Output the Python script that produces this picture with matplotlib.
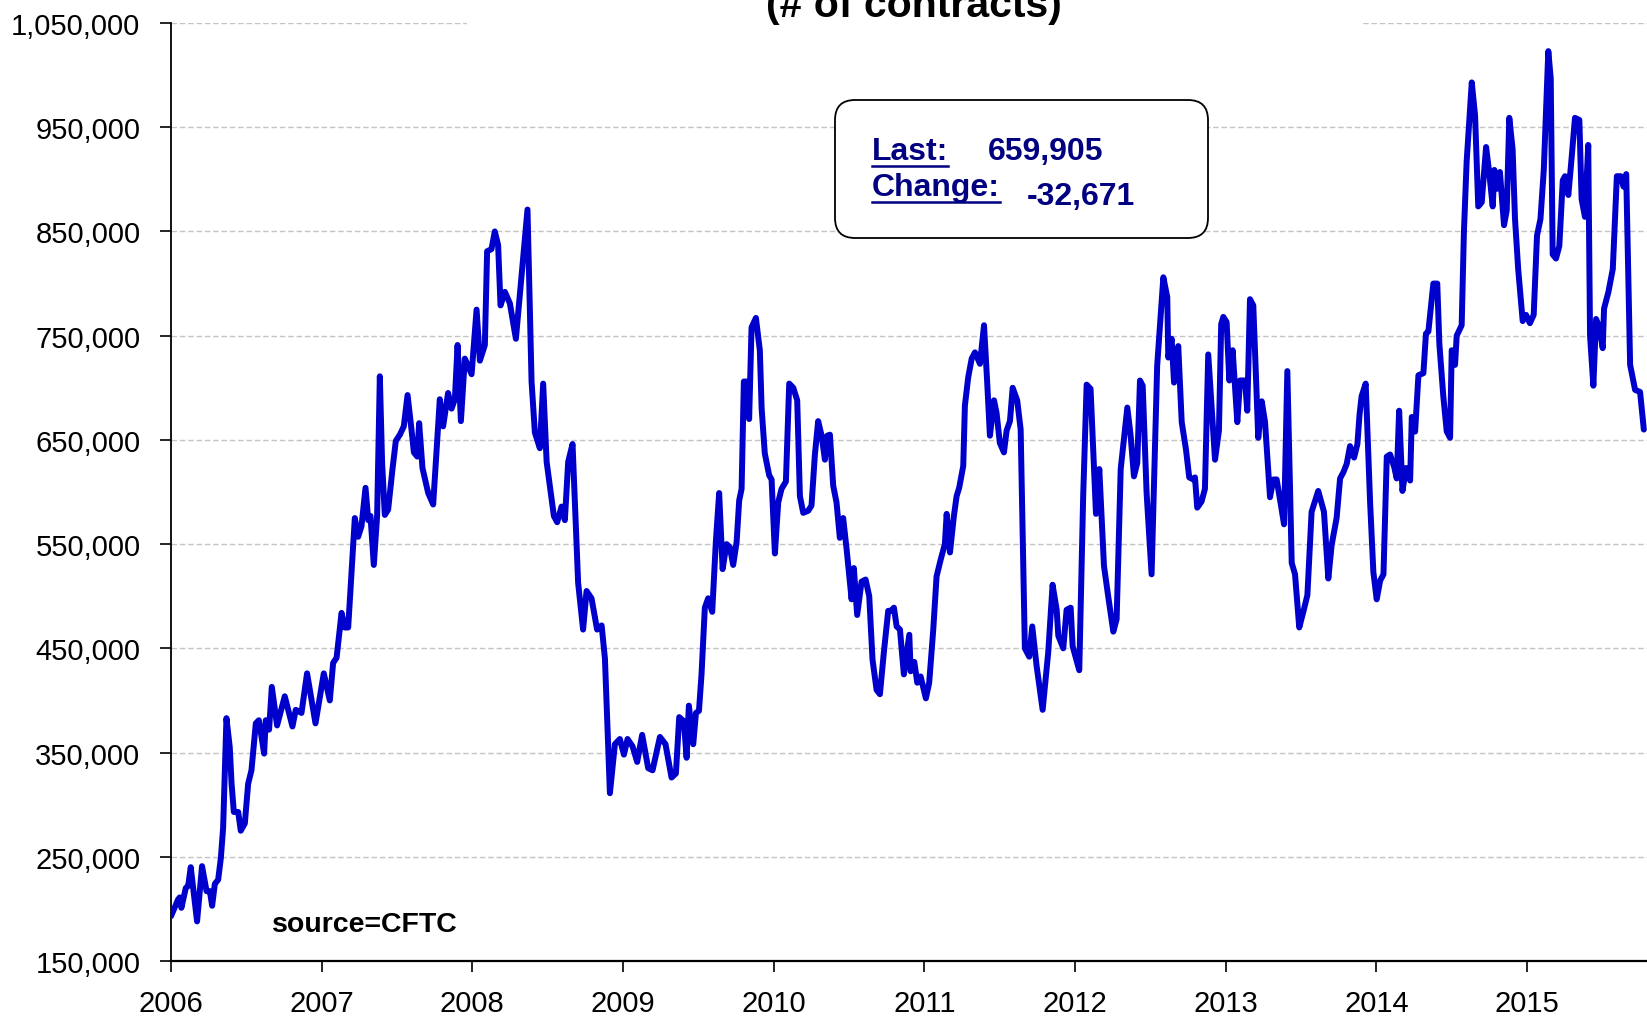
import numpy as np
import matplotlib
matplotlib.use("Agg")
import matplotlib.pyplot as plt
from matplotlib.patches import FancyBboxPatch, Rectangle
from matplotlib.lines import Line2D

# weekly open interest (decimal year, thousands of contracts)
t = [2006.000, 2006.047, 2006.058, 2006.069, 2006.098, 2006.114, 2006.131, 2006.173, 2006.206, 2006.236,
     2006.258, 2006.273, 2006.291, 2006.313, 2006.331, 2006.346, 2006.368, 2006.390, 2006.402, 2006.417,
     2006.446, 2006.463, 2006.490, 2006.512, 2006.534, 2006.563, 2006.583, 2006.601, 2006.618, 2006.629,
     2006.651, 2006.669, 2006.704, 2006.755, 2006.806, 2006.828, 2006.866, 2006.903, 2006.959,
     2007.014, 2007.054, 2007.076, 2007.099, 2007.132, 2007.153, 2007.176, 2007.220, 2007.242, 2007.264,
     2007.291, 2007.309, 2007.324, 2007.346, 2007.368, 2007.386, 2007.401, 2007.419, 2007.441, 2007.470,
     2007.492, 2007.519, 2007.545, 2007.570, 2007.596, 2007.612, 2007.634, 2007.647, 2007.669, 2007.707,
     2007.740, 2007.784, 2007.806, 2007.839, 2007.862, 2007.884, 2007.902, 2007.924, 2007.950, 2007.995,
     2008.028, 2008.050, 2008.083, 2008.098, 2008.127, 2008.149, 2008.171, 2008.187, 2008.216, 2008.249,
     2008.289, 2008.366, 2008.393, 2008.415, 2008.448, 2008.470, 2008.493, 2008.541, 2008.563, 2008.592,
     2008.614, 2008.636, 2008.665, 2008.702, 2008.735, 2008.758, 2008.791, 2008.828, 2008.858, 2008.880,
     2008.913, 2008.946, 2008.979,
     2009.006, 2009.030, 2009.063, 2009.094, 2009.127, 2009.167, 2009.196, 2009.245, 2009.282, 2009.322,
     2009.351, 2009.373, 2009.404, 2009.422, 2009.437, 2009.466, 2009.484, 2009.504, 2009.521, 2009.543,
     2009.565, 2009.592, 2009.616, 2009.638, 2009.661, 2009.687, 2009.709, 2009.731, 2009.754, 2009.771,
     2009.787, 2009.802, 2009.820, 2009.837, 2009.853, 2009.882, 2009.908, 2009.920, 2009.941, 2009.970,
     2009.986,
     2010.008, 2010.030, 2010.052, 2010.081, 2010.103, 2010.130, 2010.156, 2010.174, 2010.196, 2010.229,
     2010.251, 2010.273, 2010.295, 2010.318, 2010.340, 2010.355, 2010.373, 2010.395, 2010.417, 2010.439,
     2010.461, 2010.484, 2010.517, 2010.532, 2010.554, 2010.583, 2010.610, 2010.634, 2010.656, 2010.683,
     2010.705, 2010.731, 2010.760, 2010.780, 2010.798, 2010.816, 2010.838, 2010.864, 2010.900, 2010.909,
     2010.933, 2010.953, 2010.975,
     2011.010, 2011.032, 2011.059, 2011.081, 2011.108, 2011.136, 2011.148, 2011.170, 2011.196, 2011.214,
     2011.231, 2011.258, 2011.269, 2011.291, 2011.314, 2011.336, 2011.369, 2011.396, 2011.417, 2011.435,
     2011.462, 2011.479, 2011.501, 2011.528, 2011.546, 2011.568, 2011.586, 2011.616, 2011.639, 2011.667,
     2011.696, 2011.716, 2011.745, 2011.785, 2011.822, 2011.851, 2011.878, 2011.889, 2011.922, 2011.944,
     2011.971, 2011.984,
     2012.028, 2012.054, 2012.077, 2012.103, 2012.139, 2012.161, 2012.192, 2012.220, 2012.254, 2012.276,
     2012.303, 2012.347, 2012.369, 2012.391, 2012.413, 2012.431, 2012.449, 2012.475, 2012.508, 2012.545,
     2012.586, 2012.612, 2012.619, 2012.641, 2012.657, 2012.685, 2012.708, 2012.736, 2012.758, 2012.785,
     2012.796, 2012.811, 2012.840, 2012.862, 2012.884, 2012.929, 2012.955, 2012.970, 2012.984,
     2013.006, 2013.024, 2013.046, 2013.077, 2013.095, 2013.128, 2013.143, 2013.161, 2013.183, 2013.216,
     2013.239, 2013.261, 2013.294, 2013.316, 2013.338, 2013.367, 2013.387, 2013.409, 2013.438, 2013.460,
     2013.488, 2013.515, 2013.542, 2013.570, 2013.614, 2013.652, 2013.681, 2013.703, 2013.736, 2013.759,
     2013.781, 2013.803, 2013.825, 2013.852, 2013.874, 2013.888, 2013.902, 2013.929, 2013.958, 2013.980,
     2014.002, 2014.025, 2014.047, 2014.069, 2014.091, 2014.118, 2014.135, 2014.151, 2014.173, 2014.197,
     2014.224, 2014.235, 2014.257, 2014.279, 2014.312, 2014.329, 2014.345, 2014.378, 2014.404, 2014.418,
     2014.444, 2014.467, 2014.489, 2014.500, 2014.522, 2014.533, 2014.566, 2014.581, 2014.599, 2014.633,
     2014.655, 2014.676, 2014.699, 2014.728, 2014.750, 2014.772, 2014.783, 2014.802, 2014.820, 2014.847,
     2014.865, 2014.882, 2014.904, 2014.920, 2014.941, 2014.971, 2014.993,
     2015.019, 2015.044, 2015.066, 2015.089, 2015.111, 2015.141, 2015.157, 2015.170, 2015.192, 2015.214,
     2015.237, 2015.252, 2015.274, 2015.296, 2015.318, 2015.347, 2015.362, 2015.384, 2015.406, 2015.418,
     2015.440, 2015.458, 2015.480, 2015.502, 2015.511, 2015.540, 2015.569, 2015.596, 2015.622, 2015.640,
     2015.658, 2015.684, 2015.717, 2015.750, 2015.775]

oi = [193, 209, 211, 201, 220, 222, 240, 188, 241, 217,
      217, 203, 224, 228, 249, 278, 383, 355, 320, 293,
      293, 275, 282, 320, 333, 378, 381, 365, 349, 381,
      372, 413, 376, 404, 375, 391, 388, 426, 378,
      426, 400, 436, 441, 484, 470, 470, 575, 557, 567,
      604, 573, 577, 530, 577, 711, 628, 578, 583, 622,
      649, 655, 663, 693, 660, 638, 634, 666, 623, 599,
      588, 689, 663, 695, 680, 689, 741, 668, 728, 713,
      775, 726, 741, 831, 833, 850, 837, 779, 792, 781,
      747, 871, 706, 657, 642, 704, 629, 577, 571, 586,
      573, 629, 646, 513, 468, 505, 498, 468, 472, 440,
      311, 358, 363,
      348, 363, 356, 341, 367, 335, 333, 365, 358, 326,
      330, 384, 380, 345, 395, 358, 388, 390, 425, 489,
      498, 485, 552, 599, 526, 550, 547, 530, 552, 592,
      603, 706, 706, 670, 758, 767, 736, 680, 637, 616,
      612,
      541, 590, 603, 610, 704, 700, 688, 596, 580, 582,
      587, 635, 668, 654, 631, 654, 655, 606, 590, 556,
      575, 545, 497, 527, 482, 514, 516, 500, 439, 410,
      406, 446, 486, 486, 489, 471, 468, 425, 463, 428,
      437, 417, 423,
      402, 417, 468, 519, 535, 550, 579, 542, 577, 596,
      604, 625, 683, 710, 728, 734, 723, 760, 705, 654,
      688, 676, 647, 638, 659, 668, 700, 688, 660, 450,
      442, 471, 433, 391, 446, 511, 487, 462, 450, 487,
      489, 452,
      429, 596, 703, 699, 579, 622, 529, 500, 466, 478,
      622, 681, 654, 615, 628, 707, 702, 599, 521, 721,
      806, 787, 729, 747, 705, 740, 667, 641, 614, 612,
      614, 585, 591, 603, 732, 631, 659, 761, 768,
      763, 707, 736, 667, 707, 707, 678, 785, 779, 652,
      687, 667, 595, 612, 612, 587, 569, 716, 532, 521,
      470, 485, 501, 581, 601, 581, 517, 549, 575, 613,
      619, 627, 644, 633, 646, 674, 692, 704, 591, 523,
      497, 515, 521, 634, 636, 624, 613, 678, 601, 623,
      611, 672, 658, 712, 714, 752, 754, 800, 800, 742,
      692, 658, 652, 736, 722, 750, 760, 850, 917, 993,
      961, 874, 878, 931, 905, 874, 909, 891, 907, 856,
      870, 959, 929, 862, 814, 764, 770,
      762, 770, 846, 862, 909, 1023, 997, 828, 824, 836,
      899, 903, 885, 921, 959, 957, 881, 864, 933, 750,
      702, 766, 758, 738, 776, 792, 814, 903, 903, 893,
      905, 722, 698, 696, 659.905]

years = list(range(2006, 2016))
y_ticks = list(range(150000, 1050001, 100000))
last_val = "659,905"
change_val = "-32,671"

W, H = 1647, 1020
fig = plt.figure(figsize=(W / 100, H / 100), dpi=100)
ax = fig.add_axes([171 / W, 1 - 962 / H, (W - 171) / W, (962 - 24) / H])

ax.plot(t, np.array(oi) * 1000, color="#0000CC", lw=4.3, solid_joinstyle="round",
        solid_capstyle="round", zorder=3)

ax.set_xlim(2006, 2015.796)
ax.set_ylim(150000, 1050000)
ax.set_yticks(y_ticks)
ax.set_yticklabels([f"{v:,}" for v in y_ticks])
ax.set_xticks(years)
ax.set_xticklabels([str(y) for y in years])
for lab in ax.get_xticklabels() + ax.get_yticklabels():
    lab.set_family("Liberation Sans")
    lab.set_fontsize(21)
ax.tick_params(axis="y", direction="out", length=8, width=1.2, pad=14)
ax.tick_params(axis="x", direction="out", length=8, width=1.2, pad=12)

ax.yaxis.grid(True, color="#c4c4c4", lw=1, linestyle=(0, (4, 2)))
ax.set_axisbelow(True)
for s in ["top", "right"]:
    ax.spines[s].set_visible(False)
ax.spines["left"].set_linewidth(1.3)
ax.spines["bottom"].set_linewidth(1.6)

# title, mostly cut off at the top of the image
fig.add_artist(Rectangle((467 / W, 1 - 30 / H), (1362 - 467) / W, 30 / H,
                         transform=fig.transFigure, facecolor="white", edgecolor="none", zorder=5))
fig.text(914 / W, 1 - 17 / H, "(# of contracts)", ha="center", va="baseline",
         family="Liberation Sans", fontsize=29.5, fontweight="bold", zorder=6)

# info box
inch = fig.dpi_scale_trans
box = FancyBboxPatch((835 / 100, (H - 239) / 100), (1208 - 835) / 100, (239 - 101) / 100,
                     boxstyle="round,pad=0,rounding_size=0.2", transform=inch,
                     facecolor="white", edgecolor="black", lw=1.3, zorder=5)
fig.add_artist(box)

navy = "#000080"
txt = dict(family="Liberation Sans", fontsize=23, fontweight="bold", color=navy,
           va="baseline", ha="left", transform=inch, zorder=6)
t_last = fig.text(872 / 100, (H - 160) / 100, "Last:", **txt)
fig.text(988 / 100, (H - 160) / 100, last_val, **txt)
t_chg = fig.text(872 / 100, (H - 196) / 100, "Change:", **txt)
fig.text(1027 / 100, (H - 205) / 100, change_val, **txt)

renderer = fig.canvas.get_renderer()
for tx, uy in [(t_last, 167), (t_chg, 203)]:
    bb = tx.get_window_extent(renderer=renderer)
    fig.add_artist(Line2D([bb.x0 / 100, bb.x1 / 100], [(H - uy) / 100] * 2,
                          transform=inch, color=navy, lw=1.8, zorder=6))

ax.text(272 / W, 1 - 932 / H, "source=CFTC", transform=fig.transFigure,
        family="Liberation Sans", fontsize=20.5, fontweight="bold", va="baseline", ha="left")

fig.savefig("out.png", dpi=100)
